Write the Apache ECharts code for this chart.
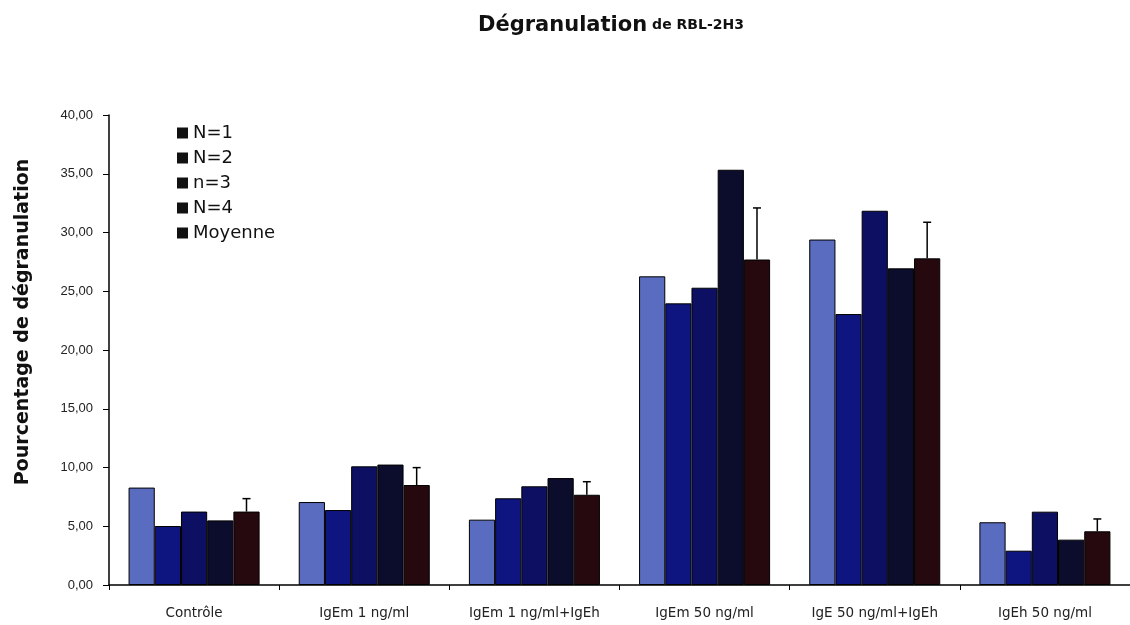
<!DOCTYPE html>
<html>
<head>
<meta charset="utf-8">
<script src="https://cdn.jsdelivr.net/npm/echarts@6/dist/echarts.min.js"></script>
<style>
html,body{margin:0;padding:0;background:#fff;}
#chart{width:1130px;height:625px;}
</style>
</head>
<body>
<div id="chart"></div>
<script>
var categories = ['Contrôle', 'IgEm 1 ng/ml', 'IgEm 1 ng/ml+IgEh', 'IgEm 50 ng/ml', 'IgE 50 ng/ml+IgEh', 'IgEh 50 ng/ml'];
var seriesNames = ['N=1', 'N=2', 'n=3', 'N=4', 'Moyenne'];
var n1 = [8.29, 7.06, 5.56, 26.27, 29.40, 5.34];
var n2 = [5.02, 6.38, 7.38, 23.97, 23.06, 2.92];
var n3 = [6.25, 10.10, 8.40, 25.30, 31.85, 6.24];
var n4 = [5.50, 10.25, 9.10, 35.34, 26.95, 3.86];
var moyenne = [6.25, 8.51, 7.68, 27.70, 27.80, 4.57];
var errTop = [7.35, 9.99, 8.79, 32.09, 30.87, 5.62];
var yTicks = [0, 5, 10, 15, 20, 25, 30, 35, 40];

var colors = ['#5a6cc0', '#0f1580', '#0d1062', '#0c0c2c', '#25090f'];
var seriesData = [n1, n2, n3, n4, moyenne];
var catGap = 0.23;

var chart = echarts.init(document.getElementById('chart'), null, {renderer: 'canvas'});

var series = seriesData.map(function (d, i) {
  return {
    name: seriesNames[i],
    type: 'bar',
    data: d,
    barGap: '0%',
    barCategoryGap: (catGap * 100) + '%',
    itemStyle: {color: colors[i], borderColor: '#000', borderWidth: 1},
    emphasis: {disabled: true}
  };
});

series.push({
  name: 'err',
  type: 'custom',
  data: moyenne.map(function (m, i) { return [i, m, errTop[i]]; }),
  renderItem: function (params, api) {
    var band = api.size([1, 0])[0];
    var bw = band * (1 - catGap) / 5;
    var base = api.coord([api.value(0), api.value(1)]);
    var top = api.coord([api.value(0), api.value(2)]);
    var x = base[0] + 2 * bw;
    var cap = 4;
    return {
      type: 'group',
      children: [
        {type: 'line', shape: {x1: x, y1: base[1], x2: x, y2: top[1]}, style: {stroke: '#000', lineWidth: 1.5}},
        {type: 'line', shape: {x1: x - cap, y1: top[1], x2: x + cap, y2: top[1]}, style: {stroke: '#000', lineWidth: 1.5}}
      ]
    };
  },
  z: 5,
  silent: true
});

var option = {
  backgroundColor: '#fff',
  animation: false,
  title: {
    left: 473,
    top: 10,
    text: '{a|Dégranulation} {b|de RBL-2H3}',
    textStyle: {
      rich: {
        a: {fontFamily: 'DejaVu Sans', fontWeight: 'bold', fontSize: 21, color: '#111'},
        b: {fontFamily: 'DejaVu Sans', fontWeight: 'bold', fontSize: 14, color: '#111'}
      }
    }
  },
  legend: {
    orient: 'vertical',
    left: 172,
    top: 119,
    itemWidth: 11,
    itemHeight: 11,
    itemGap: 7,
    icon: 'rect',
    textStyle: {fontFamily: 'DejaVu Sans', fontSize: 18, color: '#111'},
    data: seriesNames.map(function (n) { return {name: n, itemStyle: {color: '#111', borderWidth: 0}}; })
  },
  grid: {left: 109, right: -9, top: 115, bottom: 40, containLabel: false},
  xAxis: {
    type: 'category',
    data: categories,
    axisLine: {lineStyle: {color: '#000', width: 1.5}},
    axisTick: {show: true, length: 5, interval: 0, lineStyle: {color: '#000', width: 1}},
    axisLabel: {interval: 0, fontFamily: 'DejaVu Sans', fontSize: 13.5, color: '#222', margin: 21}
  },
  yAxis: {
    type: 'value',
    min: 0,
    max: 40,
    interval: 5,
    splitLine: {show: false},
    axisLine: {show: true, lineStyle: {color: '#000', width: 1.5}},
    axisTick: {show: true, length: 6, lineStyle: {color: '#000', width: 1}},
    axisLabel: {
      fontFamily: 'Liberation Sans', fontSize: 13, color: '#222', margin: 16,
      formatter: function (v) { return yTicks.indexOf(v) >= 0 ? v.toFixed(2).replace('.', ',') : ''; }
    }
  },
  graphic: [{
    type: 'text',
    x: 23,
    y: 322,
    rotation: Math.PI / 2,
    style: {
      text: 'Pourcentage de dégranulation',
      font: 'bold 19px "DejaVu Sans"',
      fill: '#111',
      align: 'center',
      verticalAlign: 'middle',
      textAlign: 'center',
      textVerticalAlign: 'middle'
    }
  }],
  series: series
};
chart.setOption(option);
</script>
</body>
</html>
